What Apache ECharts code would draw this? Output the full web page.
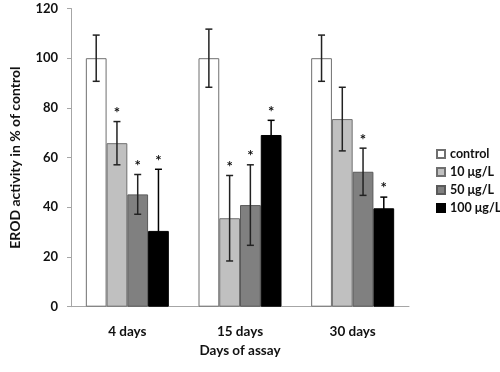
<!DOCTYPE html>
<html>
<head>
<meta charset="utf-8">
<script src="https://cdn.jsdelivr.net/npm/echarts@6/dist/echarts.min.js"></script>
<style>
  html, body { margin: 0; padding: 0; background: #fff; }
  #main { width: 500px; height: 372px; }
</style>
</head>
<body>
<div id="main"></div>
<script>
// values (% of control)
const categories = ['4 days', '15 days', '30 days'];
const seriesNames = ['control', '10 μg/L', '50 μg/L', '100 μg/L'];
const control = [100, 100, 100];
const dose10 = [65.8, 35.6, 75.5];
const dose50 = [45.2, 40.9, 54.3];
const dose100 = [30.5, 69.1, 39.6];
// standard deviations
const errControl = [9.3, 11.7, 9.3];
const err10 = [8.7, 17.2, 12.8];
const err50 = [8.0, 16.2, 9.5];
const err100 = [24.8, 5.9, 4.5];
// significance marks (*)
const sigControl = [0, 0, 0];
const sig10 = [1, 1, 0];
const sig50 = [1, 1, 1];
const sig100 = [1, 1, 1];

const colors = ['#ffffff', '#c0c0c0', '#808080', '#000000'];
const borders = ['#6f6f6f', '#6f6f6f', '#5a5a5a', '#000000'];
const errColors = ['#222', '#222', '#222', '#000'];
const barW = 20.75;
const font = 'Lato, "Open Sans", sans-serif';

const values = [control, dose10, dose50, dose100];
const errs = [errControl, err10, err50, err100];
const sigs = [sigControl, sig10, sig50, sig100];

const chart = echarts.init(document.getElementById('main'));

const barSeries = seriesNames.map((name, i) => ({
  name: name,
  type: 'bar',
  barWidth: barW,
  barGap: '0%',
  data: values[i],
  itemStyle: { color: colors[i], borderColor: borders[i], borderWidth: 1 }
}));

const errSeries = seriesNames.map((name, i) => ({
  name: 'err ' + name,
  type: 'custom',
  z: 5,
  silent: true,
  data: categories.map((c, k) => [k, values[i][k], errs[i][k], sigs[i][k]]),
  renderItem: function (params, api) {
    const x = api.coord([api.value(0), 0])[0] + (i - 1.5) * barW;
    const top = api.coord([api.value(0), api.value(1) + api.value(2)])[1];
    const bot = api.coord([api.value(0), api.value(1) - api.value(2)])[1];
    const cap = 3.5;
    const st = { stroke: errColors[i], lineWidth: 1.5 };
    const children = [
      { type: 'line', shape: { x1: x, y1: top, x2: x, y2: bot }, style: st },
      { type: 'line', shape: { x1: x - cap, y1: top, x2: x + cap, y2: top }, style: st },
      { type: 'line', shape: { x1: x - cap, y1: bot, x2: x + cap, y2: bot }, style: st }
    ];
    if (api.value(3)) {
      children.push({
        type: 'text',
        style: {
          text: '*', x: x, y: top - 1,
          align: 'center', verticalAlign: 'bottom',
          font: 'bold 15px ' + font, fill: '#111'
        }
      });
    }
    return { type: 'group', children: children };
  }
}));

chart.setOption({
  animation: false,
  textStyle: { fontFamily: font },
  grid: { left: 68, right: 91, top: 8.5, bottom: 65.3 },
  legend: {
    data: seriesNames,
    orient: 'vertical',
    left: 431,
    top: 141.5,
    icon: 'rect',
    itemWidth: 8,
    itemHeight: 8,
    itemGap: 3,
    textStyle: { fontSize: 12.5, lineHeight: 15, fontWeight: 'bold', color: '#111', fontFamily: font }
  },
  xAxis: {
    type: 'category',
    data: categories,
    name: 'Days of assay',
    nameLocation: 'middle',
    nameGap: 36,
    nameTextStyle: { fontSize: 13.5, fontWeight: 'bold', color: '#111' },
    axisLine: { lineStyle: { color: '#a6a6a6', width: 1 } },
    axisTick: { length: 4, lineStyle: { color: '#a6a6a6' } },
    axisLabel: { margin: 18, fontSize: 13.5, fontWeight: 'bold', color: '#111' }
  },
  yAxis: {
    type: 'value',
    min: 0,
    max: 120,
    interval: 20,
    name: 'EROD activity in % of control',
    nameLocation: 'middle',
    nameGap: 49,
    nameTextStyle: { fontSize: 14, fontWeight: 'bold', color: '#111' },
    splitLine: { show: false },
    axisLine: { show: true, lineStyle: { color: '#a6a6a6', width: 1 } },
    axisTick: { show: true, length: 4, lineStyle: { color: '#a6a6a6' } },
    axisLabel: { margin: 13, fontSize: 13, fontWeight: 'bold', color: '#111' }
  },
  series: barSeries.concat(errSeries)
});
</script>
</body>
</html>
